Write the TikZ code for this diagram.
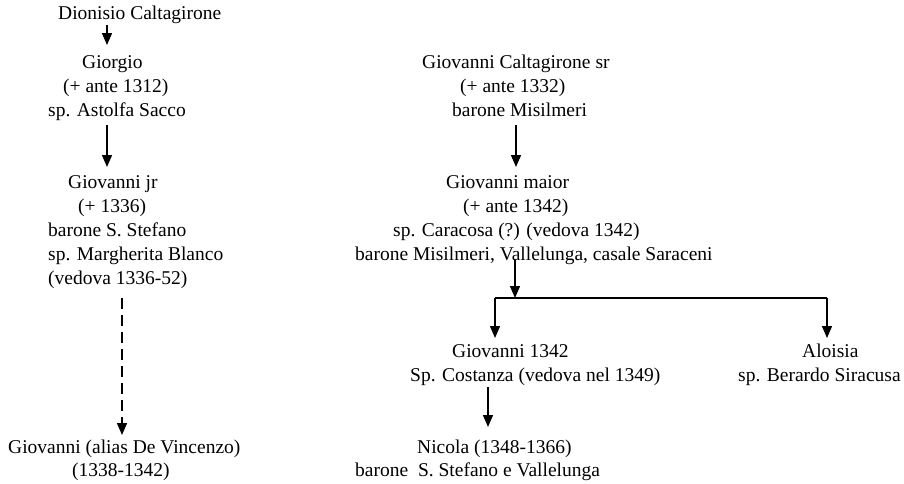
\documentclass[tikz,border=0pt]{standalone}
\usepackage{fontspec}
\setmainfont{Liberation Serif}
\usetikzlibrary{arrows.meta}
\begin{document}
\begin{tikzpicture}[x=1pt,y=-1pt,
  txt/.style={anchor=base west,inner sep=0pt,font=\fontsize{19.5}{24}\selectfont},
  conn/.style={line width=1.4pt,-{Triangle[length=12pt,width=10pt]}},
  dconn/.style={conn,dash pattern=on 11pt off 6pt},
  link/.style={line width=1.4pt}]
\useasboundingbox[fill=white] (0,0) rectangle (904,483);

% left branch
\node[txt] (dion) at (58,19) {Dionisio Caltagirone};
\node[txt] (gio1) at (82,68) {Giorgio};
\node[txt] (gio2) at (63,92) {(+ ante 1312)};
\node[txt] (gio3) at (48,116) {sp. Astolfa Sacco};
\node[txt] (jr1) at (68,188) {Giovanni jr};
\node[txt] (jr2) at (78,212) {(+ 1336)};
\node[txt] (jr3) at (48,236) {barone S. Stefano};
\node[txt] (jr4) at (48,260) {sp. Margherita Blanco};
\node[txt] (jr5) at (48,284) {(vedova 1336-52)};
\node[txt] (dv1) at (8,453) {Giovanni (alias De Vincenzo)};
\node[txt] (dv2) at (72,476) {(1338-1342)};

% right branch
\node[txt] (sr1) at (422,68) {Giovanni Caltagirone sr};
\node[txt] (sr2) at (460,92) {(+ ante 1332)};
\node[txt] (sr3) at (452,116) {barone Misilmeri};
\node[txt] (ma1) at (446,188) {Giovanni maior};
\node[txt] (ma2) at (463,212) {(+ ante 1342)};
\node[txt] (ma3) at (393,236) {sp. Caracosa (?) (vedova 1342)};
\node[txt] (ma4) at (355,260) {barone Misilmeri, Vallelunga, casale Saraceni};
\node[txt] (gc1) at (452,357) {Giovanni 1342};
\node[txt] (gc2) at (410,381) {Sp. Costanza (vedova nel 1349)};
\node[txt] (al1) at (802,357) {Aloisia};
\node[txt] (al2) at (738,381) {sp. Berardo Siracusa};
\node[txt] (ni1) at (417,453) {Nicola (1348-1366)};
\node[txt] (ni2) at (355,476) {barone\ \ S. Stefano e Vallelunga};

% connector end points
\coordinate (dionOut) at (107,25);
\coordinate (gioIn)   at (107,45);
\coordinate (gioOut)  at (107,125);
\coordinate (jrIn)    at (107,167);
\coordinate (jrOut)   at (122,298);
\coordinate (dvIn)    at (122,435);
\coordinate (srOut)   at (516,125);
\coordinate (maIn)    at (516,167);
\coordinate (maOut)   at (515,260);
\coordinate (fork)    at (515,298);
\coordinate (forkL)   at (495,298);
\coordinate (forkR)   at (827,298);
\coordinate (gcIn)    at (495,338);
\coordinate (alIn)    at (827,338);
\coordinate (gcOut)   at (488,387);
\coordinate (niIn)    at (488,427);

% connectors
\draw[conn]  (dionOut) -- (gioIn);
\draw[conn]  (gioOut) -- (jrIn);
\draw[dconn] (jrOut) -- (dvIn);
\draw[conn]  (srOut) -- (maIn);
\draw[conn]  (maOut) -- (fork);
\draw[link]  (forkL) -- (forkR);
\draw[conn]  (forkL) -- (gcIn);
\draw[conn]  (forkR) -- (alIn);
\draw[conn]  (gcOut) -- (niIn);
\end{tikzpicture}
\end{document}
